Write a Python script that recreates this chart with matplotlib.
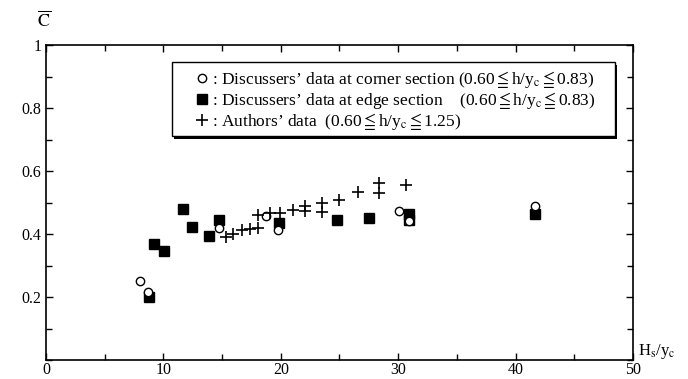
import matplotlib
matplotlib.use("Agg")
import matplotlib.pyplot as plt
from matplotlib.lines import Line2D
from matplotlib.patches import Rectangle
from matplotlib.ticker import MultipleLocator

plt.rcParams["font.family"] = ["Liberation Serif", "DejaVu Serif", "DejaVu Sans"]
plt.rcParams["mathtext.fontset"] = "stix"

# discussers' data, corner section (open circles)
corner_x = [8.0, 8.7, 14.7, 18.7, 19.8, 30.1, 30.9, 41.7]
corner_y = [0.25, 0.215, 0.42, 0.457, 0.413, 0.472, 0.44, 0.49]

# discussers' data, edge section (filled squares)
edge_x = [8.8, 9.2, 10.05, 11.7, 12.4, 13.9, 14.7, 19.85, 24.8, 27.5, 30.9, 30.9, 41.7]
edge_y = [0.20, 0.368, 0.346, 0.479, 0.423, 0.394, 0.444, 0.436, 0.444, 0.45, 0.465, 0.445, 0.463]

# authors' data (plus)
auth_x = [15.3, 15.9, 16.7, 17.4, 18.1, 18.1, 19.1, 19.9, 21.0, 22.1, 22.1,
          23.5, 23.5, 25.0, 26.6, 28.4, 28.4, 30.7]
auth_y = [0.39, 0.40, 0.413, 0.416, 0.42, 0.46, 0.466, 0.466, 0.476, 0.489, 0.473,
          0.498, 0.47, 0.508, 0.534, 0.562, 0.53, 0.555]

x_ticks = [0, 10, 20, 30, 40, 50]
y_ticks = [0.2, 0.4, 0.6, 0.8, 1.0]
y_tick_labels = ["0.2", "0.4", "0.6", "0.8", "1"]

labels = [
    r": Discussers’ data at corner section (0.60$\leqq$h/y$_\mathrm{c}$$\leqq$0.83)",
    r": Discussers’ data at edge section    (0.60$\leqq$h/y$_\mathrm{c}$$\leqq$0.83)",
    r": Authors’ data  (0.60$\leqq$h/y$_\mathrm{c}$$\leqq$1.25)",
]

fig = plt.figure(figsize=(6.88, 3.79), dpi=100)
ax = fig.add_axes([0.0669, 0.0501, 0.853, 0.831])

ax.plot(edge_x, edge_y, "s", color="black", markersize=7, zorder=3)
ax.plot(corner_x, corner_y, "o", mfc="white", mec="black", mew=1.0, markersize=6, zorder=4)
ax.plot(auth_x, auth_y, "+", color="black", markersize=8, mew=1.2, zorder=5)

ax.set_xlim(0, 50)
ax.set_ylim(0, 1)
ax.set_xticks(x_ticks)
ax.set_yticks(y_ticks)
ax.set_yticklabels(y_tick_labels)
ax.xaxis.set_minor_locator(MultipleLocator(5))
ax.yaxis.set_minor_locator(MultipleLocator(0.1))
ax.tick_params(which="both", direction="in", top=True, right=True, labelsize=11.5, width=1)
ax.tick_params(axis="x", pad=1.5)
ax.tick_params(which="major", length=5)
ax.tick_params(which="minor", length=4)
for s in ax.spines.values():
    s.set_linewidth(1.2)

fig.text(0.064, 0.947, r"$\overline{\mathrm{C}}$", fontsize=13, ha="center", va="center")
fig.text(0.927, 0.072, r"H$_\mathrm{s}$/y$_\mathrm{c}$", fontsize=12, ha="left", va="center")

# legend frame with a solid shadow, drawn by hand
box = (0.2147, 0.711, 0.7546, 0.235)
ax.add_patch(Rectangle((box[0] + 0.004, box[1] - 0.008), box[2], box[3],
                       transform=ax.transAxes, facecolor="black", edgecolor="none",
                       zorder=6, clip_on=False))
ax.add_patch(Rectangle(box[:2], box[2], box[3], transform=ax.transAxes,
                       facecolor="white", edgecolor="black", lw=1.0, zorder=7,
                       clip_on=False))

handles = [
    Line2D([], [], ls="none", marker="o", mfc="white", mec="black", markersize=6),
    Line2D([], [], ls="none", marker="s", color="black", markersize=7),
    Line2D([], [], ls="none", marker="+", color="black", markersize=8, mew=1.2),
]
leg = ax.legend(handles, labels, loc="upper left", bbox_to_anchor=(0.2547, 0.925),
                fontsize=12.5, frameon=False, handlelength=0.8, handletextpad=0.15,
                labelspacing=0.0, borderpad=0, borderaxespad=0)
leg.set_zorder(8)

fig.savefig("out.png", dpi=100)
